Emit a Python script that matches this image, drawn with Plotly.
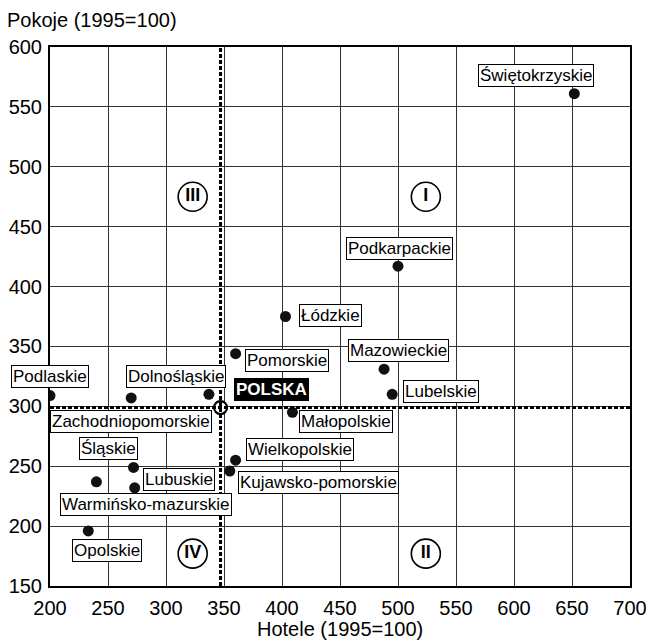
import plotly.graph_objects as go

# ---- data ----
regions = ["Podlaskie", "Zachodniopomorskie", "Dolnośląskie", "Śląskie",
           "Warmińsko-mazurskie", "Lubuskie", "Opolskie", "Wielkopolskie",
           "Kujawsko-pomorskie", "Małopolskie", "Lubelskie", "Mazowieckie",
           "Podkarpackie", "Łódzkie", "Pomorskie", "Świętokrzyskie"]
hotels = [200, 270, 337, 272, 240, 273, 233, 360, 355, 409, 495, 488, 500, 403, 360, 652]
rooms = [309, 307, 310, 249, 237, 232, 196, 255, 246, 295, 310, 331, 417, 375, 344, 561]
# label offsets (pixels) from each point: dx right, dy down
label_dx = [0, 0, -33, -25, 50, 44, 19, 64, 89, 54, 49, 14, 1, 45, 51, -38]
label_dy = [-19, 24, -18, -19, 23, -8, 20, -11, 11, 9, -3, -19, -18, -1, 7, -18]

polska_name = "POLSKA"
polska_hotels = 347
polska_rooms = 299

quad_labels = ["I", "II", "III", "IV"]
quad_x = [524, 524, 323, 323]
quad_y = [475, 177, 475, 177]

x_title = "Hotele (1995=100)"
y_title = "Pokoje (1995=100)"

FONT = "Liberation Sans, Arial, sans-serif"

fig = go.Figure()

# quadrant labels
fig.add_trace(go.Scatter(
    x=quad_x, y=quad_y, mode="markers+text", text=quad_labels,
    textposition="middle center",
    textfont=dict(family=FONT, size=18, color="black", weight="bold"),
    marker=dict(symbol="circle", size=29, color="white",
                line=dict(color="black", width=1.6)),
    hoverinfo="skip", showlegend=False))

# regions
fig.add_trace(go.Scatter(
    x=hotels, y=rooms, mode="markers", text=regions,
    marker=dict(size=11, color="#111111"),
    showlegend=False))

# Polska dashed reference lines
fig.add_shape(type="line", xref="x", yref="y", x0=200, x1=700,
              y0=polska_rooms, y1=polska_rooms,
              line=dict(color="black", width=3, dash="4px,2px"))
fig.add_shape(type="line", xref="x", yref="y", x0=polska_hotels, x1=polska_hotels,
              y0=150, y1=600,
              line=dict(color="black", width=3, dash="4px,2px"))

# Polska point
fig.add_trace(go.Scatter(
    x=[polska_hotels], y=[polska_rooms], mode="markers", text=[polska_name],
    marker=dict(size=13, color="white", line=dict(color="black", width=2.2)),
    showlegend=False))

for name, xv, yv, dx, dy in zip(regions, hotels, rooms, label_dx, label_dy):
    fig.add_annotation(x=xv, y=yv, xref="x", yref="y", text=name,
                       showarrow=False, xshift=dx, yshift=-dy,
                       font=dict(family=FONT, size=17, color="black"),
                       bgcolor="white", bordercolor="black", borderwidth=1,
                       borderpad=1)

fig.add_annotation(x=polska_hotels, y=polska_rooms, xref="x", yref="y",
                   text="<b>" + polska_name + "</b>", showarrow=False,
                   xshift=51, yshift=18,
                   font=dict(family=FONT, size=17, color="white"),
                   bgcolor="black", bordercolor="black", borderwidth=1,
                   borderpad=1)

fig.add_annotation(x=0, y=1, xref="paper", yref="paper", text=y_title,
                   showarrow=False, xanchor="left", yanchor="bottom",
                   xshift=-45, yshift=14,
                   font=dict(family=FONT, size=20, color="black"))

fig.add_annotation(x=0.5, y=0, xref="paper", yref="paper", text=x_title,
                   showarrow=False, xanchor="center", yanchor="top",
                   yshift=-30,
                   font=dict(family=FONT, size=20, color="black"))

fig.update_xaxes(range=[200, 700], dtick=50, tick0=200, automargin=False,
                 showgrid=True, gridcolor="#333333", gridwidth=1,
                 showline=True, linecolor="black", linewidth=2, mirror=True,
                 zeroline=False, ticks="", ticklabelstandoff=3,
                 ticklabeloverflow="allow",
                 tickfont=dict(family=FONT, size=20, color="black"))
fig.update_yaxes(range=[150, 600], dtick=50, tick0=150, automargin=False,
                 showgrid=True, gridcolor="#333333", gridwidth=1,
                 showline=True, linecolor="black", linewidth=2, mirror=True,
                 zeroline=False, ticks="", ticklabelstandoff=2,
                 ticklabeloverflow="allow",
                 tickfont=dict(family=FONT, size=20, color="black"))

fig.update_layout(
    width=646, height=641,
    margin=dict(l=50, r=16, t=47, b=55, autoexpand=False),
    plot_bgcolor="white", paper_bgcolor="white",
    font=dict(family=FONT, color="black"),
    showlegend=False,
)

fig.write_html("out.html",
               config={"displayModeBar": False},
               post_script="document.body.style.margin='0';"
                           "document.body.style.overflow='hidden';")
